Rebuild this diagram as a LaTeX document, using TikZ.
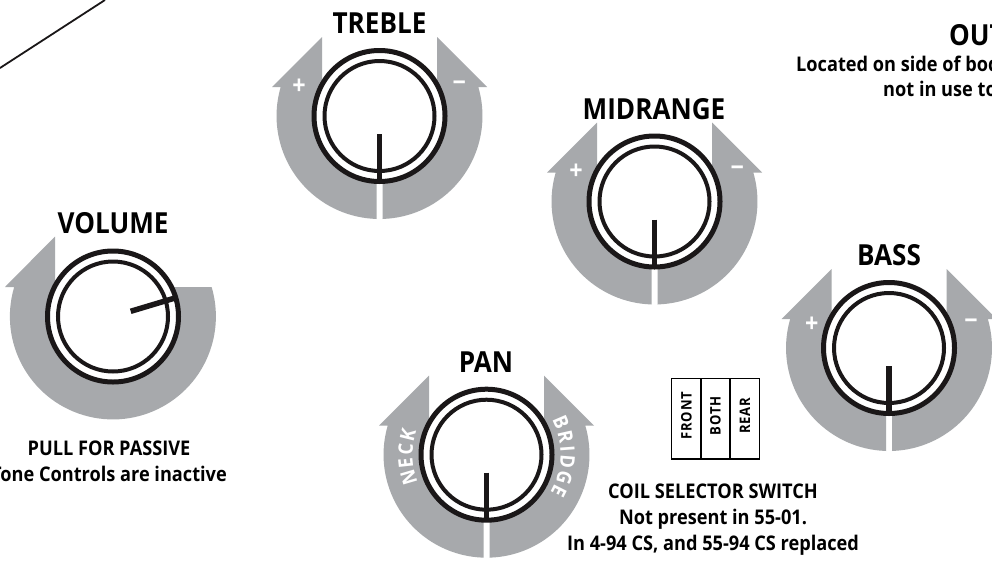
\documentclass[tikz,border=0pt]{standalone}
\usepackage{fontspec}
\setmainfont{Open Sans}[BoldFont={Open Sans Bold},FakeStretch=0.9]
\newfontfamily\swfont{Open Sans Bold}[FakeStretch=0.9,LetterSpace=6]
\definecolor{band}{HTML}{A7A9AC}
\definecolor{ink}{HTML}{1A1718}
\tikzset{
  title/.style={font=\fontsize{29}{32}\selectfont\bfseries,text=black,inner sep=0pt,anchor=center},
  note/.style={font=\fontsize{20.2}{26}\selectfont\bfseries,text=black,inner sep=0pt,align=center},
  sign/.style={font=\fontsize{26}{26}\selectfont\bfseries,text=white,inner sep=0pt},
  ringout/.style={draw=ink,line width=5pt,fill=white},
  ringin/.style={draw=ink,line width=4pt,fill=none},
  ptr/.style={draw=ink,line width=5.5pt},
  swbox/.style={draw=black,line width=1.5pt,fill=white,minimum width=29.3pt,minimum height=80.7pt,inner sep=0pt},
  swtext/.style={font=\fontsize{14.5}{14.5}\swfont,text=black,rotate=90,inner sep=0pt},
  arcletter/.style={font=\fontsize{20}{20}\selectfont\bfseries,text=white,inner sep=0pt,anchor=base},
}
\newcommand{\halfband}[1]{%
  \fill[band] (#1*3,103) -- (#1*3,60) -- (#1*57.5,0) -- (#1*57.5,-79) -- (#1*107.5,-29) -- (#1*98.8,-29)
    arc[start angle={90-#1*(90+16.35)},delta angle={#1*(16.35+90-1.67)},radius=103] -- cycle;}
\newcommand{\knobat}[2]{%
  \begin{scope}[shift={(#1,#2)}]
    \halfband{1}\halfband{-1}
    \draw[ringout] (0,0) circle[radius=65.5];
    \draw[ringin] (0,0) circle[radius=55];
    \draw[ptr] (0,18) -- (0,66);
  \end{scope}}
\begin{document}
\begin{tikzpicture}[x=1pt,y=-1pt]
\useasboundingbox (0,0) rectangle (992,560);
\fill[white] (0,0) rectangle (992,560);
% volume
\begin{scope}[shift={(113,316.5)}]
\fill[band] (-58,-80) -- (-108,-29.5) -- (-98.8,-29.5) arc[start angle=196.6,delta angle=-213.2,radius=103] -- (0,-29.5) -- (0,0) -- (-58,0) -- cycle;
\draw[ringout] (0,0) circle[radius=65.5];
\draw[ringin] (0,0) circle[radius=55];
\draw[ptr] (17.7,-5.2) -- (62,-18.5);
\end{scope}
\knobat{379.5}{116}
\knobat{654.5}{201.5}
\knobat{889}{348}
\knobat{486.5}{454.7}
\node[title] (tvol) at (113,223) {VOLUME};
\node[title] (ttre) at (379.5,23) {TREBLE};
\node[title] (tmid) at (654,109) {MIDRANGE};
\node[title] (tbas) at (889,255.5) {BASS};
\node[title] (tpan) at (486,362) {PAN};
\node[sign] (p1) at (299,87) {+};
\node[sign] (m1) at (459.3,86) {\textminus};
\node[sign] (p2) at (576,171.7) {+};
\node[sign] (m2) at (737.3,171) {\textminus};
\node[sign] (p3) at (811.7,324.7) {+};
\node[sign] (m3) at (971,324) {\textminus};
\node[note] (n1) at (109,461) {PULL FOR PASSIVE\\Tone Controls are inactive};
\node[note] (n2) at (713,520) {COIL SELECTOR SWITCH\\Not present in 55-01.\\In 4-94 CS, and 55-94 CS replaced};
\node[title,anchor=base west] (out) at (949,45.7) {OUT};
\node[note,anchor=base west] (n3a) at (796,71) {Located on side of bod};
\node[note,anchor=base west] (n3b) at (883,96.7) {not in use to};
\node[swbox] (sw1) at (686.2,418.7) {};
\node[swbox] (sw2) at (715.5,418.7) {};
\node[swbox] (sw3) at (744.8,418.7) {};
\node[swtext] (fr) at (686.5,415.7) {FRONT};
\node[swtext] (bo) at (715.5,415.7) {BOTH};
\node[swtext] (re) at (745,415.7) {REAR};
\coordinate (la) at (105,0);
\coordinate (lb) at (0,68);
\draw[ink,line width=1.8pt] (la) -- (lb);
% curved labels: each letter stands on a circle of radius 74 round the PAN knob
\begin{scope}[shift={(486.5,454.7)}]
\foreach \ch/\ang/\idx in {N/163.6/a,E/173.8/b,C/184/c,K/194/d,B/-23.3/e,R/-12.7/f,I/-4.3/g,D/4.7/h,G/16.2/i,E/26.7/j}
  \node[arcletter,rotate={-\ang-90}] (arc\idx) at (\ang:74) {\ch};
\end{scope}
\end{tikzpicture}
\end{document}
